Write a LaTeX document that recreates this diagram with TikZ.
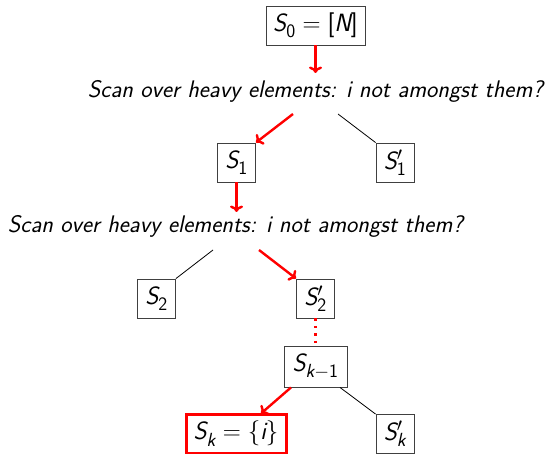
\RequirePackage{fix-cm}
\documentclass[tikz,border=0pt]{standalone}
\usetikzlibrary{arrows.meta}
\DeclareMathAlphabet{\msi}{TU}{lmss}{m}{sl}
\DeclareMathAlphabet{\msu}{TU}{lmss}{m}{n}
\DeclareMathSizes{25}{25}{19}{15}
\renewcommand{\familydefault}{\sfdefault}
\newcommand{\tb}[1]{\mbox{\sffamily #1}}
\newcommand{\lowsub}[1]{_{\lower2.5pt\hbox{$\scriptstyle #1$}}}
\tikzset{
  box/.style={draw=black!75, line width=0.9pt, minimum width=38pt, minimum height=39pt, inner xsep=3pt, inner ysep=2pt, font=\fontsize{25}{30}\selectfont},
  redbox/.style={box, draw=red, line width=3pt, minimum width=100pt, minimum height=39pt},
  question/.style={font=\fontsize{24}{28}\selectfont\itshape, anchor=base, inner sep=0pt},
  redarrow/.style={draw=red, line width=2.4pt, -{To[length=6.5pt,width=13pt,line width=2.4pt]}},
  thinline/.style={draw=black, line width=0.8pt},
  reddots/.style={draw=red, line width=2.5pt, dash pattern=on 2.5pt off 5pt}
}
\begin{document}
\begin{tikzpicture}[x=1pt,y=-1pt]
\useasboundingbox (0,0) rectangle (548,454);
\node[box, minimum width=99pt] (s0) at (315.5,25.5) {$\msi{S}\lowsub{\msu{0}}=\tb{[}\msi{N}\tb{]}$};
\node[question] (t1) at (315.5,98) {Scan over heavy elements: i not amongst them?};
\node[box] (s1) at (236.5,162.5) {$\msi{S}\lowsub{\msu{1}}$};
\node[box] (s1p) at (395,162.5) {$\msi{S}'_{\msu{1}}$};
\node[question] (t2) at (235.5,233) {Scan over heavy elements: i not amongst them?};
\node[box] (s2) at (156.5,298.5) {$\msi{S}\lowsub{\msu{2}}$};
\node[box] (s2p) at (315.5,298.5) {$\msi{S}'_{\msu{2}}$};
\node[box, minimum width=63pt, minimum height=41pt] (sk1) at (315.5,366.5) {$\msi{S}\lowsub{\msi{k}-\msu{1}}$};
\node[redbox] (sk) at (236,433.5) {$\msi{S}\lowsub{\msi{k}}=\{\msi{i}\}$};
\node[box] (skp) at (395,434) {$\msi{S}'_{\msi{k}}$};
\coordinate (a0) at (315.5,73);
\coordinate (b1l) at (293,114);
\coordinate (b1r) at (338,114);
\coordinate (a1) at (236.5,212);
\coordinate (b2l) at (213,250);
\coordinate (b2r) at (259,250);
\draw[redarrow] (s0.south) -- (a0);
\draw[redarrow] (b1l) -- (s1.north east);
\draw[thinline] (b1r) -- (s1p.north west);
\draw[redarrow] (s1.south) -- (a1);
\draw[thinline] (b2l) -- (s2.north east);
\draw[redarrow] (b2r) -- (s2p.north west);
\draw[reddots] (s2p.south) -- (sk1.north);
\draw[redarrow] ([xshift=-24.5pt]sk1.south) -- ([xshift=25pt,yshift=-1pt]sk.north);
\draw[thinline] ([xshift=24.5pt]sk1.south) -- (skp.north west);
\end{tikzpicture}
\end{document}
